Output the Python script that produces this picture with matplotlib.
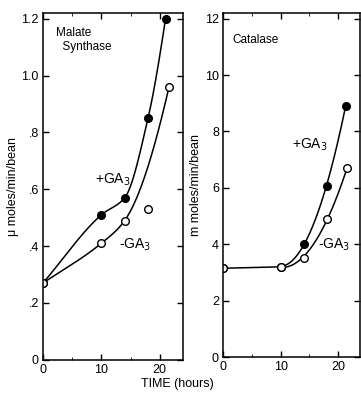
import numpy as np
import matplotlib.pyplot as plt
from matplotlib.ticker import FixedLocator, FixedFormatter

# Malate synthase (umoles/min/bean)
t_ms = [0, 10, 14, 18, 21]
ms_plus = [0.27, 0.51, 0.57, 0.85, 1.20]
t_ms_minus = [0, 10, 14, 18, 21.6]
ms_minus = [0.27, 0.41, 0.49, 0.53, 0.96]
ms_minus_on_curve = [True, True, True, False, True]  # hand-drawn curve skips the 18 h point

# Catalase (m moles/min/bean)
t_cat_plus = [0, 10, 14, 18, 21.3]
cat_plus = [3.15, 3.2, 4.0, 6.05, 8.9]
t_cat_minus = [0, 10, 14, 18, 21.6]
cat_minus = [3.15, 3.2, 3.5, 4.9, 6.7]

plt.rcParams['font.family'] = ['Liberation Sans', 'DejaVu Sans']
plt.rcParams['font.size'] = 9

fig = plt.figure(figsize=(3.61, 3.95), dpi=100)
ax1 = fig.add_axes([0.119, 0.089, 0.388, 0.878])
ax2 = fig.add_axes([0.618, 0.096, 0.379, 0.871])


def pchip(t, y, n=300):
	# monotone piecewise cubic through the points (Fritsch-Carlson)
	t = np.asarray(t, float)
	y = np.asarray(y, float)
	h = np.diff(t)
	delta = np.diff(y) / h
	d = np.zeros_like(y)
	for k in range(1, len(y) - 1):
		if delta[k - 1] * delta[k] > 0:
			w1 = 2 * h[k] + h[k - 1]
			w2 = h[k] + 2 * h[k - 1]
			d[k] = (w1 + w2) / (w1 / delta[k - 1] + w2 / delta[k])
	d[0] = delta[0]
	d[-1] = ((2 * h[-1] + h[-2]) * delta[-1] - h[-1] * delta[-2]) / (h[-1] + h[-2])
	if np.sign(d[-1]) != np.sign(delta[-1]):
		d[-1] = 0
	tt = np.linspace(t[0], t[-1], n)
	k = np.clip(np.searchsorted(t, tt) - 1, 0, len(h) - 1)
	s = (tt - t[k]) / h[k]
	h00 = 2 * s**3 - 3 * s**2 + 1
	h10 = s**3 - 2 * s**2 + s
	h01 = -2 * s**3 + 3 * s**2
	h11 = s**3 - s**2
	yy = h00 * y[k] + h10 * h[k] * d[k] + h01 * y[k + 1] + h11 * h[k] * d[k + 1]
	return tt, yy


def fit_curve(t, y, deg, start=0):
	t = np.asarray(t[start:], float)
	y = np.asarray(y[start:], float)
	c = np.polyfit(t, y, deg)
	tt = np.linspace(t[0], t[-1], 200)
	return tt, np.polyval(c, tt)


# left panel
tt, yy = pchip(t_ms, ms_plus)
ax1.plot(tt, yy, color='black', lw=1.1)
mask = np.array(ms_minus_on_curve)
tt, yy = pchip(np.array(t_ms_minus)[mask], np.array(ms_minus)[mask])
ax1.plot(tt, yy, color='black', lw=1.1)
ax1.plot(t_ms, ms_plus, 'o', color='black', ms=5.5)
ax1.plot(t_ms_minus, ms_minus, 'o', mfc='white', mec='black', mew=1.0, ms=5.5)

# right panel: flat until 10 h, then rising
ax2.plot(t_cat_plus[:2], cat_plus[:2], color='black', lw=1.1)
tt, yy = fit_curve(t_cat_plus, cat_plus, 2, start=1)
ax2.plot(tt, yy, color='black', lw=1.1)
tt, yy = fit_curve(t_cat_minus, cat_minus, 2, start=1)
ax2.plot(tt, yy, color='black', lw=1.1)
ax2.plot(t_cat_plus, cat_plus, 'o', color='black', ms=5.5)
ax2.plot(t_cat_minus, cat_minus, 'o', mfc='white', mec='black', mew=1.0, ms=5.5)

ax1.set_xlim(0, 24)
ax1.set_ylim(0, 1.22)
ax2.set_xlim(0, 23.8)
ax2.set_ylim(0, 12.2)

ax1.yaxis.set_major_locator(FixedLocator([0, 0.2, 0.4, 0.6, 0.8, 1.0, 1.2]))
ax1.yaxis.set_major_formatter(FixedFormatter(['0', '.2', '.4', '.6', '.8', '1.0', '1.2']))
ax2.yaxis.set_major_locator(FixedLocator([0, 2, 4, 6, 8, 10, 12]))

for ax in (ax1, ax2):
	ax.xaxis.set_major_locator(FixedLocator([0, 10, 20]))
	ax.xaxis.set_minor_locator(FixedLocator([5, 15]))
	ax.tick_params(direction='in', length=4, width=1, top=True, right=True,
				   labelsize=9, pad=3)
	ax.tick_params(which='minor', direction='in', length=2, top=True)
	for s in ax.spines.values():
		s.set_linewidth(1.1)

ax1.set_ylabel('μ moles/min/bean', fontsize=9, labelpad=2)
ax2.set_ylabel('m moles/min/bean', fontsize=9, labelpad=2)

ax1.text(0.09, 0.96, 'Malate\n  Synthase', transform=ax1.transAxes, va='top', fontsize=8.5)
ax2.text(0.07, 0.94, 'Catalase', transform=ax2.transAxes, va='top', fontsize=8.5)

ax1.text(9.0, 0.62, '+GA$_3$', fontsize=10)
ax1.text(13.0, 0.39, '-GA$_3$', fontsize=10)
ax2.text(12.0, 7.4, '+GA$_3$', fontsize=10)
ax2.text(16.5, 3.85, '-GA$_3$', fontsize=10)

fig.text(0.49, 0.02, 'TIME (hours)', ha='center', fontsize=9)

fig.savefig('out.png', dpi=100)
